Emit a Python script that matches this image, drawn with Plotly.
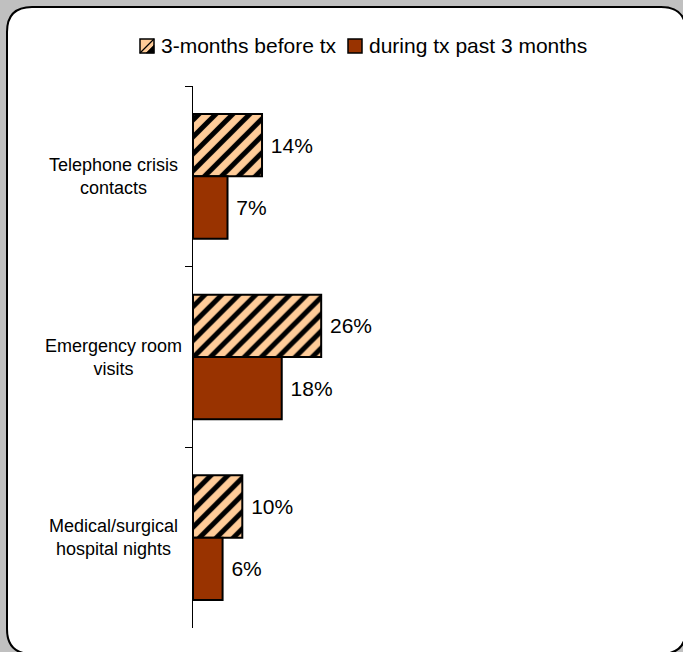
import plotly.graph_objects as go

# Share of clients with each service use, before vs during treatment
categories = ["Telephone crisis contacts", "Emergency room visits", "Medical/surgical hospital nights"]
label_lines = ["Telephone crisis<br>contacts", "Emergency room<br>visits", "Medical/surgical<br>hospital nights"]
before_tx = [14, 26, 10]
during_tx = [7, 18, 6]
series_names = ["3-months before tx", "during tx past 3 months"]

BEFORE_COLOR = "#FFCC99"
DURING_COLOR = "#993300"

W, H = 683, 652
L, R, T, B = 193, 20, 86, 24
PW, PH = W - L - R, H - T - B
PX_PER_UNIT = 4.93
NBSP = "\u00a0"


def xp(px):
    return (px - L) / PW


def yp(py):
    return (H - B - py) / PH


fig = go.Figure()
fig.add_trace(go.Bar(
    y=categories, x=before_tx, orientation="h", name=series_names[0],
    marker=dict(color=BEFORE_COLOR, line=dict(color="black", width=2),
                pattern=dict(shape="/", fgcolor="black", bgcolor=BEFORE_COLOR,
                             fgopacity=1, size=12, solidity=0.42)),
    texttemplate=NBSP + "%{x}%", textposition="outside",
    textfont=dict(size=21, color="black"), cliponaxis=False, showlegend=False,
))
fig.add_trace(go.Bar(
    y=categories, x=during_tx, orientation="h", name=series_names[1],
    marker=dict(color=DURING_COLOR, line=dict(color="black", width=2)),
    texttemplate=NBSP + "%{x}%", textposition="outside",
    textfont=dict(size=21, color="black"), cliponaxis=False, showlegend=False,
))

# Rounded white panel with a black outline
x0, y0, x1, y1, r = 7, 7, 686, 654, 25
path = (
    f"M {xp(x0 + r)},{yp(y0)} L {xp(x1 - r)},{yp(y0)} "
    f"Q {xp(x1)},{yp(y0)} {xp(x1)},{yp(y0 + r)} "
    f"L {xp(x1)},{yp(y1 - r)} Q {xp(x1)},{yp(y1)} {xp(x1 - r)},{yp(y1)} "
    f"L {xp(x0 + r)},{yp(y1)} Q {xp(x0)},{yp(y1)} {xp(x0)},{yp(y1 - r)} "
    f"L {xp(x0)},{yp(y0 + r)} Q {xp(x0)},{yp(y0)} {xp(x0 + r)},{yp(y0)} Z"
)
fig.add_shape(type="path", path=path, xref="paper", yref="paper",
              fillcolor="white", line=dict(color="black", width=2), layer="below")

# Legend: swatches and labels along the top
legend_items = [
    (140, 159, BEFORE_COLOR, series_names[0], True),
    (348, 367, DURING_COLOR, series_names[1], False),
]
for sx, tx, color, name, hatched in legend_items:
    fig.add_shape(type="rect", xref="paper", yref="paper",
                  x0=xp(sx), x1=xp(sx + 14), y0=yp(53), y1=yp(39),
                  fillcolor=color, line=dict(color="black", width=1.5))
    if hatched:
        fig.add_shape(type="path", xref="paper", yref="paper",
                      path=f"M {xp(sx + 14)},{yp(45)} L {xp(sx + 14)},{yp(53)} "
                           f"L {xp(sx + 6)},{yp(53)} Z",
                      fillcolor="black", line=dict(color="black", width=0.5))
        fig.add_shape(type="line", xref="paper", yref="paper",
                      x0=xp(sx), y0=yp(53), x1=xp(sx + 14), y1=yp(39),
                      line=dict(color="black", width=1.2))
    fig.add_annotation(x=xp(tx), y=yp(46), xref="paper", yref="paper", text=name,
                       showarrow=False, xanchor="left", yanchor="middle",
                       font=dict(size=21, color="black"))

# Centered two-line category labels
for cat, txt in zip(categories, label_lines):
    fig.add_annotation(x=xp(113), xref="paper", y=cat, yref="y", text=txt,
                       showarrow=False, xanchor="center", yanchor="middle",
                       align="center", font=dict(size=18, color="black"))

fig.update_layout(
    width=W, height=H,
    margin=dict(l=L, r=R, t=T, b=B),
    paper_bgcolor="#C0C0C0", plot_bgcolor="rgba(0,0,0,0)",
    font=dict(family="Liberation Sans, Arial, sans-serif", color="black"),
    barmode="group", bargap=0.31, bargroupgap=0,
    showlegend=False,
    xaxis=dict(range=[0, PW / PX_PER_UNIT], visible=False, showgrid=False),
    yaxis=dict(autorange="reversed", showticklabels=False, showgrid=False,
               showline=True, linecolor="black", linewidth=1,
               ticks="outside", tickson="boundaries", ticklen=7,
               tickcolor="black", tickwidth=1, zeroline=False),
)

fig.write_html("out.html")
